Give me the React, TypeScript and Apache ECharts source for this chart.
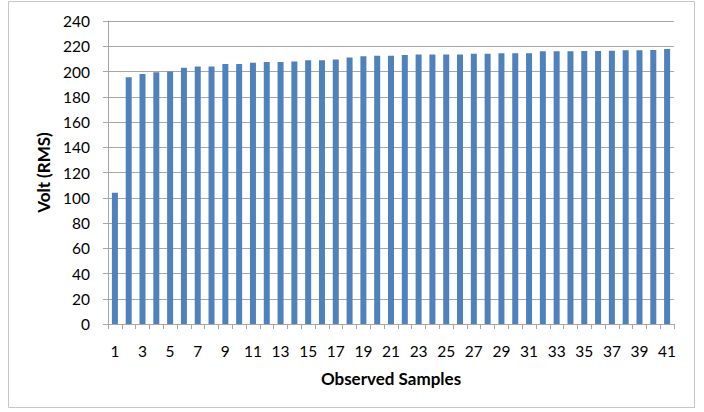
import React, { useEffect, useRef } from "react";
import * as echarts from "echarts";

const categories: string[] = Array.from({ length: 41 }, (_, i) => String(i + 1));
const voltValues: number[] = [
  104, 195.5, 198, 199.5, 200, 203, 204, 204, 206, 206,
  207, 207.5, 207.5, 208, 209, 209, 209.5, 211, 212, 212.5,
  212.5, 213, 213.5, 213.5, 213.5, 213.5, 214, 214, 214.5, 214.5,
  214.5, 216, 216, 216, 216.3, 216.3, 216.5, 216.8, 216.8, 217,
  217.8,
];
const yTicks = { min: 0, max: 240, interval: 20 };
const xTitle = "Observed Samples";
const yTitle = "Volt (RMS)";

const FONT = "Lato, 'Open Sans', sans-serif";

export default function App() {
  const ref = useRef<HTMLDivElement>(null);
  useEffect(() => {
    if (!ref.current) return;
    const chart = echarts.init(ref.current, undefined, { renderer: "svg" });
    chart.setOption({
      animation: false,
      backgroundColor: "#ffffff",
      textStyle: { fontFamily: FONT },
      graphic: [
        {
          type: "rect",
          shape: { x: 8.5, y: 1.5, width: 686, height: 406 },
          style: { fill: "none", stroke: "#c6c6c6", lineWidth: 1 },
          silent: true,
        },
      ],
      grid: { left: 108, right: 30, top: 21, bottom: 88 },
      xAxis: {
        type: "category",
        data: categories,
        name: xTitle,
        nameLocation: "middle",
        nameGap: 46,
        nameTextStyle: { fontFamily: FONT, fontSize: 17, fontWeight: "bold", color: "#000" },
        axisLine: { lineStyle: { color: "#a6a6a6", width: 1 } },
        axisTick: { show: true, interval: 0, length: 5, lineStyle: { color: "#a6a6a6" } },
        axisLabel: { interval: 1, fontSize: 15.5, color: "#000", margin: 19, fontFamily: FONT },
        splitLine: { show: false },
      },
      yAxis: {
        type: "value",
        min: yTicks.min,
        max: yTicks.max,
        interval: yTicks.interval,
        name: yTitle,
        nameLocation: "middle",
        nameGap: 56,
        nameRotate: 90,
        nameTextStyle: { fontFamily: FONT, fontSize: 17, fontWeight: "bold", color: "#000" },
        axisLine: { show: true, lineStyle: { color: "#a6a6a6", width: 1 } },
        axisTick: { show: true, length: 5, lineStyle: { color: "#a6a6a6" } },
        axisLabel: { fontSize: 15.5, color: "#000", margin: 18, fontFamily: FONT },
        splitLine: { show: true, lineStyle: { color: "#a6a6a6", width: 1 } },
      },
      series: [
        {
          type: "bar",
          data: voltValues,
          barWidth: 6,
          itemStyle: { color: "#4f81bd" },
        },
      ],
    });
    return () => chart.dispose();
  }, []);
  return (
    <div
      ref={ref}
      style={{ position: "absolute", left: 0, top: 0, width: 704, height: 412 }}
    />
  );
}
